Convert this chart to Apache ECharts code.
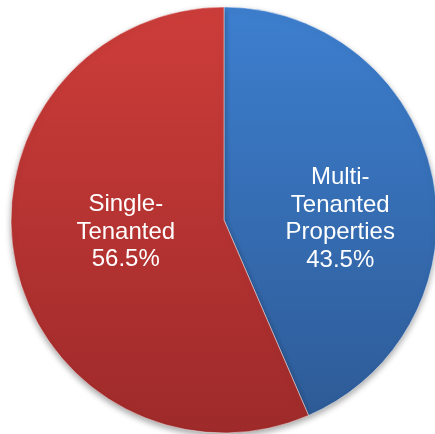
<!DOCTYPE html>
<html>
<head>
<meta charset="utf-8">
<style>
  html, body { margin: 0; padding: 0; background: #ffffff; }
  #chart { width: 435px; height: 434px; }
</style>
<script src="https://cdn.jsdelivr.net/npm/echarts@6/dist/echarts.min.js"></script>
</head>
<body>
<div id="chart"></div>
<script>
// Share of properties by tenancy type
const categories = ['Multi-\nTenanted\nProperties', 'Single-\nTenanted'];
const shares = [43.5, 56.5];

// Vertical shading for each slice: [top, bottom]
const sliceColors = [
  ['#3d7fcf', '#2e5b97'],
  ['#cd3d3a', '#9e2a2a']
];
// Nudge each label from the radial midpoint of its slice
const labelNudge = [[9, 21], [9, -10]];

const chart = echarts.init(document.getElementById('chart'), null, { renderer: 'canvas' });

chart.setOption({
  animation: false,
  series: [{
    type: 'pie',
    center: [224, 220],
    radius: [0, 213],
    startAngle: 90,
    clockwise: true,
    silent: true,
    itemStyle: {
      borderColor: 'rgba(255,255,255,0.45)',
      borderWidth: 1,
      shadowColor: 'rgba(0,0,0,0.35)',
      shadowBlur: 6,
      shadowOffsetY: 3
    },
    label: {
      show: true,
      position: 'inside',
      color: '#ffffff',
      fontFamily: '"Liberation Sans", Arial, sans-serif',
      fontSize: 24,
      lineHeight: 27.5,
      align: 'center',
      formatter: p => p.name + '\n' + p.value.toFixed(1) + '%'
    },
    labelLine: { show: false },
    labelLayout: p => ({ dx: labelNudge[p.dataIndex][0], dy: labelNudge[p.dataIndex][1] }),
    data: categories.map((name, i) => ({
      name: name,
      value: shares[i],
      itemStyle: {
        color: {
          type: 'linear', x: 0, y: 0, x2: 0, y2: 1,
          colorStops: [
            { offset: 0, color: sliceColors[i][0] },
            { offset: 1, color: sliceColors[i][1] }
          ]
        }
      }
    }))
  }]
});
</script>
</body>
</html>
